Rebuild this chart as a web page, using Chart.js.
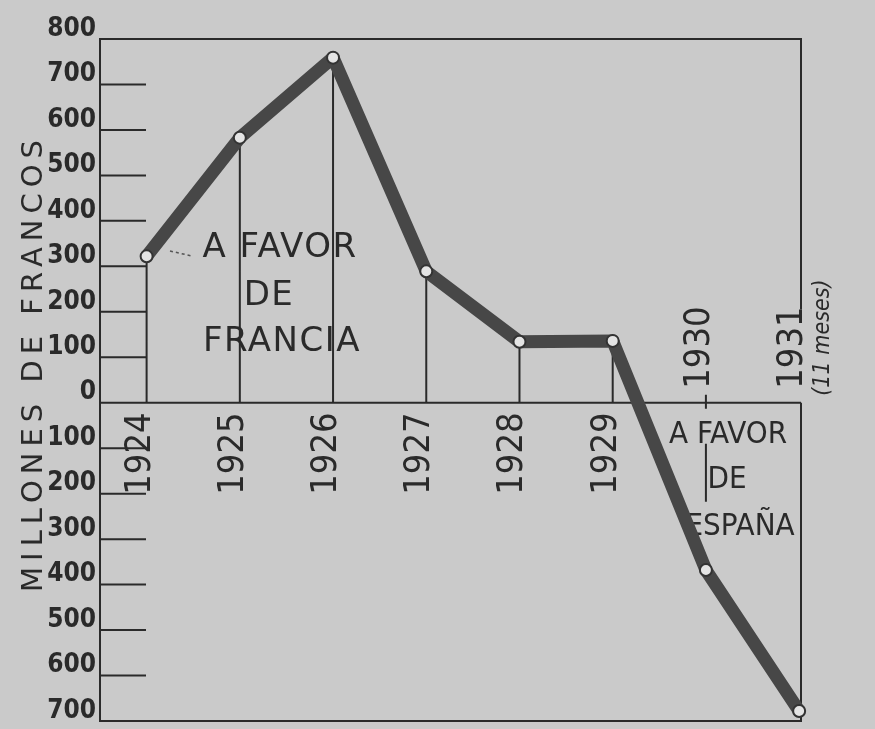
<!DOCTYPE html>
<html>
<head>
<meta charset="utf-8">
<script src="https://cdn.jsdelivr.net/npm/chart.js@4/dist/chart.umd.min.js"></script>
<style>
  html, body { margin: 0; padding: 0; background: #cacaca; }
  canvas { display: block; }
</style>
</head>
<body>
<canvas id="balanza" width="875" height="729"></canvas>
<script>
// saldo comercial franco-español, millones de francos (+ a favor de Francia, - a favor de España)
const years = [1924, 1925, 1926, 1927, 1928, 1929, 1930, 1931];
const yearLabels = ['1924', '1925', '1926', '1927', '1928', '1929', '1930', '1931'];
const saldo = [322, 583, 759, 289, 134, 136, -368, -678];

const ink = '#2a2a2a';

function vText(ctx, str, x, y, font, spacing) {
  ctx.save();
  ctx.translate(x, y);
  ctx.rotate(-Math.PI / 2);
  ctx.font = font;
  ctx.letterSpacing = spacing || '0px';
  ctx.fillText(str, 0, 0);
  ctx.restore();
}

const marcos = {
  id: 'marcos',
  beforeDraw(chart) {
    const ctx = chart.ctx;
    ctx.save();
    ctx.fillStyle = '#cacaca';
    ctx.fillRect(0, 0, chart.width, chart.height);
    ctx.restore();
  },
  beforeDatasetsDraw(chart) {
    const {ctx, chartArea: a, scales: {x, y}} = chart;
    const y0 = y.getPixelForValue(0);
    ctx.save();
    ctx.strokeStyle = ink;
    ctx.fillStyle = ink;
    ctx.lineWidth = 2;

    // recuadro, con hueco a la derecha para 1931
    ctx.beginPath();
    ctx.moveTo(a.right, y.getPixelForValue(205));
    ctx.lineTo(a.right, a.top);
    ctx.lineTo(a.left, a.top);
    ctx.lineTo(a.left, a.bottom);
    ctx.lineTo(a.right, a.bottom);
    ctx.lineTo(a.right, y0);
    ctx.moveTo(a.left, y0);
    ctx.lineTo(a.right, y0);
    ctx.stroke();

    // rayas cortas de la escala
    ctx.beginPath();
    y.ticks.forEach(t => {
      if (t.value === 800 || t.value === 0 || t.value === -700) return;
      const py = y.getPixelForValue(t.value);
      ctx.moveTo(a.left, py);
      ctx.lineTo(a.left + 46, py);
    });
    ctx.stroke();

    // verticales hasta el cero
    ctx.beginPath();
    years.forEach((yr, i) => {
      if (saldo[i] <= 0) return;
      const px = x.getPixelForValue(yr);
      ctx.moveTo(px, y.getPixelForValue(saldo[i]));
      ctx.lineTo(px, y0);
    });
    const p30 = x.getPixelForValue(1930);
    ctx.moveTo(p30, y0 - 8);
    ctx.lineTo(p30, y0 + 6);
    ctx.moveTo(p30, y.getPixelForValue(-90));
    ctx.lineTo(p30, y.getPixelForValue(-218));
    ctx.stroke();

    // años
    yearLabels.forEach((lab, i) => {
      const px = x.getPixelForValue(years[i]) + 3;
      const start = saldo[i] > 0 ? y0 + 92 : y0 - 14;
      vText(ctx, lab, px, start, '36px "DejaVu Sans Condensed"', '0px');
    });
    vText(ctx, '(11 meses)', x.getPixelForValue(1931) + 30, y0 - 7, 'italic 23px "DejaVu Sans Condensed"', '0px');

    // título del eje
    ctx.save();
    ctx.translate(42, 366);
    ctx.rotate(-Math.PI / 2);
    ctx.font = '29px "DejaVu Sans"';
    ctx.letterSpacing = '6px';
    ctx.textAlign = 'center';
    ctx.fillText('MILLONES DE FRANCOS', 3, 0);
    ctx.restore();

    // leyendas internas
    ctx.textAlign = 'center';
    ctx.font = '34px "DejaVu Sans"';
    ctx.letterSpacing = '1.5px';
    ctx.fillText('A FAVOR', 280, 257);
    ctx.fillText('DE', 269, 305);
    ctx.fillText('FRANCIA', 282, 351);

    ctx.font = '31px "DejaVu Sans Condensed"';
    ctx.letterSpacing = '0px';
    ctx.fillText('A FAVOR', 728, 443);
    ctx.fillText('DE', 727, 488);
    ctx.fillText('ESPAÑA', 740, 535);

    // flechita punteada
    ctx.lineWidth = 1.5;
    ctx.strokeStyle = '#555';
    ctx.setLineDash([3, 3]);
    ctx.beginPath();
    ctx.moveTo(170, 251);
    ctx.lineTo(192, 256);
    ctx.stroke();
    ctx.restore();
  }
};

new Chart(document.getElementById('balanza'), {
  type: 'line',
  data: {
    datasets: [{
      data: years.map((yr, i) => ({x: yr, y: saldo[i]})),
      borderColor: '#474747',
      borderWidth: 13,
      borderCapStyle: 'round',
      borderJoinStyle: 'round',
      tension: 0,
      clip: false,
      pointRadius: 6,
      pointBackgroundColor: '#e4e4e4',
      pointBorderColor: '#333',
      pointBorderWidth: 2
    }]
  },
  options: {
    responsive: false,
    animation: false,
    devicePixelRatio: 1,
    layout: {padding: {top: 39, right: 74, bottom: 6, left: 0}},
    plugins: {legend: {display: false}, tooltip: {enabled: false}},
    scales: {
      x: {type: 'linear', min: 1923.5, max: 1931.02, display: false},
      y: {
        min: -700,
        max: 800,
        afterFit(s) {
          s.width = 100;
          s.paddingTop = 0;
          s.paddingBottom = 0;
        },
        grid: {display: false, drawTicks: false},
        border: {display: false},
        ticks: {
          stepSize: 100,
          autoSkip: false,
          padding: 4,
          labelOffset: -10,
          color: ink,
          font: {family: 'DejaVu Sans Condensed', size: 26, weight: 'bold'},
          callback: v => Math.abs(v)
        }
      }
    }
  },
  plugins: [marcos]
});
</script>
</body>
</html>
